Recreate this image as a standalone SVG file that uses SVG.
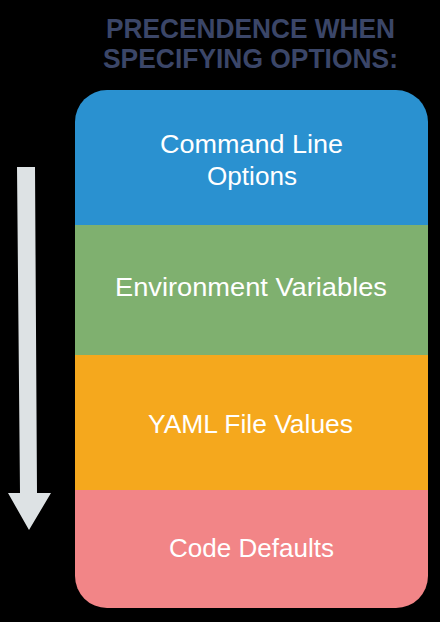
<svg xmlns="http://www.w3.org/2000/svg" width="440" height="622" viewBox="0 0 440 622">
  <defs>
    <clipPath id="stackClip">
      <rect x="75" y="90" width="353" height="518" rx="32" ry="32"/>
    </clipPath>
    <style>
      .title { font-family: "Liberation Sans", Arial, sans-serif; font-weight: bold; font-size: 28px; fill: #3b4668; }
      .label { font-family: "Liberation Sans", Arial, sans-serif; font-size: 25px; fill: #ffffff; }
    </style>
  </defs>

  <rect width="440" height="622" fill="#000000"/>

  <!-- heading -->
  <g id="heading">
    <text class="title" x="106" y="38" textLength="289" lengthAdjust="spacingAndGlyphs">PRECENDENCE WHEN</text>
    <text class="title" x="103" y="68" textLength="295" lengthAdjust="spacingAndGlyphs">SPECIFYING OPTIONS:</text>
  </g>

  <!-- stacked precedence levels -->
  <g clip-path="url(#stackClip)">
    <g id="cmdline">
      <rect x="75" y="90" width="353" height="135" fill="#2a91d0"/>
      <text class="label" x="160" y="153" textLength="183" lengthAdjust="spacingAndGlyphs">Command Line</text>
      <text class="label" x="207" y="185" textLength="90" lengthAdjust="spacingAndGlyphs">Options</text>
    </g>
    <g id="envvars">
      <rect x="75" y="225" width="353" height="130" fill="#7fb06f"/>
      <text class="label" x="115" y="296" textLength="272" lengthAdjust="spacingAndGlyphs">Environment Variables</text>
    </g>
    <g id="yaml">
      <rect x="75" y="355" width="353" height="135" fill="#f5a81d"/>
      <text class="label" x="148" y="433" textLength="205" lengthAdjust="spacingAndGlyphs">YAML File Values</text>
    </g>
    <g id="defaults">
      <rect x="75" y="490" width="353" height="118" fill="#f28587"/>
      <text class="label" x="169" y="557" textLength="165" lengthAdjust="spacingAndGlyphs">Code Defaults</text>
    </g>
  </g>

  <!-- direction of precedence -->
  <g id="connectors">
    <polygon points="17,167 35,167 37,493 51,493 29,530 8,493 20,493" fill="#dde2e4"/>
  </g>
</svg>
